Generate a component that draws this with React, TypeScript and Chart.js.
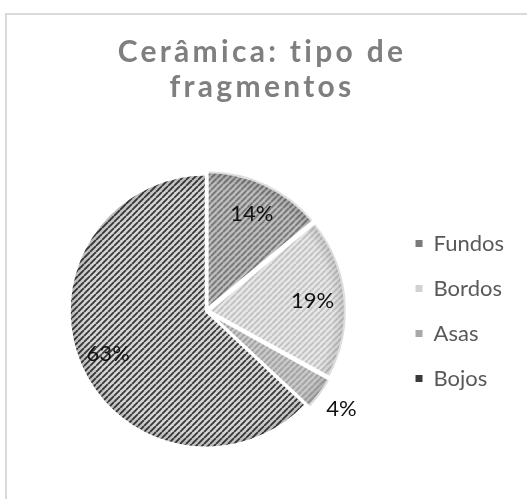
import React, { useEffect, useRef } from 'react';
import { Chart, registerables } from 'chart.js';

Chart.register(...registerables);

const categories = ['Fundos', 'Bordos', 'Asas', 'Bojos'];
const percentages = [14, 19, 4, 63];
const titleLines = ['Cerâmica: tipo de', 'fragmentos'];

const sliceBg = ['#c2c2c2', '#e8e8e8', '#cdcdcd', '#d6d6d6'];
const sliceFg = ['#6e6e6e', '#bfbfbf', '#9c9c9c', '#383838'];
const legendColors = ['#7a7a7a', '#d2d2d2', '#a9a9a9', '#3a3a3a'];

function makePattern(bg: string, fg: string): CanvasPattern | string {
  const c = document.createElement('canvas');
  const s = 6;
  c.width = s;
  c.height = s;
  const x = c.getContext('2d');
  if (!x) return bg;
  x.fillStyle = bg;
  x.fillRect(0, 0, s, s);
  x.strokeStyle = fg;
  x.lineWidth = 1.8;
  x.beginPath();
  for (const o of [-s, 0, s]) {
    x.moveTo(o, s);
    x.lineTo(o + s, 0);
  }
  x.stroke();
  return x.createPattern(c, 'repeat') || bg;
}

const titlePlugin = {
  id: 'spacedTitle',
  afterDraw(chart: any) {
    const ctx = chart.ctx;
    ctx.save();
    ctx.font = 'bold 30px Lato';
    ctx.fillStyle = '#7f7f7f';
    ctx.textAlign = 'center';
    ctx.textBaseline = 'alphabetic';
    (ctx as any).letterSpacing = '3.3px';
    titleLines.forEach((t, i) => ctx.fillText(t, 262, 62 + i * 35));
    ctx.restore();
  },
};

const shadePlugin = {
  id: 'rimShade',
  afterDatasetsDraw(chart: any) {
    const ctx = chart.ctx;
    const meta = chart.getDatasetMeta(0);
    meta.data.forEach((arc: any) => {
      const p = arc.getProps(['x', 'y', 'startAngle', 'endAngle', 'outerRadius', 'circumference'], true);
      const off = (arc.options.offset || 0) / 4;
      const mid = (p.startAngle + p.endAngle) / 2;
      const fix = 1 - Math.sin(Math.min(Math.PI, p.circumference || 0));
      const t = off * (1 + fix);
      const cx = p.x + Math.cos(mid) * t;
      const cy = p.y + Math.sin(mid) * t;
      const R = p.outerRadius + off - 1.5;
      ctx.save();
      ctx.beginPath();
      ctx.moveTo(cx, cy);
      ctx.arc(cx, cy, R, p.startAngle + 0.01, p.endAngle - 0.01);
      ctx.closePath();
      ctx.clip();
      const g = ctx.createRadialGradient(cx, cy, 0, cx, cy, R);
      g.addColorStop(0, 'rgba(0,0,0,0)');
      g.addColorStop(0.9, 'rgba(0,0,0,0)');
      g.addColorStop(1, 'rgba(0,0,0,0.14)');
      ctx.fillStyle = g;
      ctx.fillRect(cx - R, cy - R, 2 * R, 2 * R);
      ctx.restore();
    });
  },
};

const pctPlugin = {
  id: 'pctLabels',
  afterDatasetsDraw(chart: any) {
    const ctx = chart.ctx;
    const meta = chart.getDatasetMeta(0);
    const total = percentages.reduce((a, b) => a + b, 0);
    ctx.save();
    ctx.font = '22px Lato';
    ctx.fillStyle = '#111111';
    ctx.textAlign = 'center';
    ctx.textBaseline = 'middle';
    meta.data.forEach((arc: any, i: number) => {
      const p = arc.getProps(['x', 'y', 'startAngle', 'endAngle', 'outerRadius'], true);
      const mid = (p.startAngle + p.endAngle) / 2;
      const frac = percentages[i] / total;
      const r = frac < 0.05 ? p.outerRadius * 1.22 : p.outerRadius * 0.78;
      ctx.fillText(percentages[i] + '%', p.x + Math.cos(mid) * r, p.y + Math.sin(mid) * r);
    });
    ctx.restore();
  },
};

export default function App() {
  const ref = useRef<HTMLCanvasElement>(null);
  useEffect(() => {
    if (!ref.current) return;
    const patterns = categories.map((_, i) => makePattern(sliceBg[i], sliceFg[i]));
    const chart = new Chart(ref.current, {
      type: 'pie',
      data: {
        labels: categories,
        datasets: [
          {
            data: percentages,
            backgroundColor: patterns as any,
            borderColor: '#ffffff',
            borderWidth: 3,
            offset: [8, 8, 8, 0],
            radius: 137,
          } as any,
        ],
      },
      options: {
        responsive: false,
        animation: false,
        layout: { padding: { top: 140, bottom: 17, left: 20, right: 13 } },
        plugins: {
          title: { display: false },
          tooltip: { enabled: false },
          legend: {
            position: 'right',
            labels: {
              font: { family: 'Lato', size: 22 },
              color: '#595959',
              boxWidth: 7,
              boxHeight: 7,
              padding: 23,
              generateLabels: () =>
                categories.map((c, i) => ({
                  text: c,
                  fillStyle: legendColors[i],
                  strokeStyle: legendColors[i],
                  lineWidth: 0,
                  hidden: false,
                  index: i,
                  datasetIndex: 0,
                  fontColor: '#595959',
                })) as any,
            },
          },
        },
      },
      plugins: [shadePlugin, titlePlugin, pctPlugin],
    });
    return () => chart.destroy();
  }, []);
  return (
    <div style={{ position: 'fixed', left: 0, top: 0, width: 527, height: 499, overflow: 'hidden', background: '#ffffff' }}>
      <div style={{ position: 'absolute', left: 5, top: 13, width: 600, height: 600, border: '2px solid #d9d9d9' }} />
      <canvas ref={ref} width={527} height={499} style={{ position: 'absolute', left: 0, top: 0, width: 527, height: 499 }} />
    </div>
  );
}
